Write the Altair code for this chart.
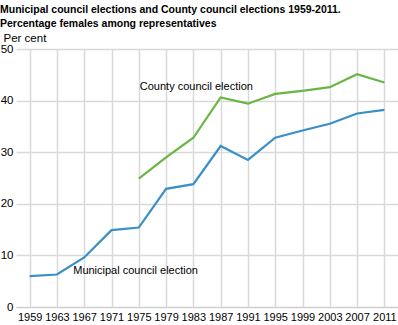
import altair as alt
import pandas as pd

years = [1959, 1963, 1967, 1971, 1975, 1979, 1983, 1987, 1991, 1995, 1999, 2003, 2007, 2011]
municipal = [6.0, 6.3, 9.6, 14.9, 15.4, 22.9, 23.8, 31.2, 28.5, 32.8, 34.2, 35.5, 37.5, 38.2]
county = [None, None, None, None, 24.9, 29.0, 32.8, 40.6, 39.4, 41.3, 41.9, 42.6, 45.1, 43.5]
series_names = ["Municipal council election", "County council election"]
colors = ["#3990c8", "#6ab545"]

rows = []
for y, m, c in zip(years, municipal, county):
    rows.append({"year": str(y), "value": m, "series": series_names[0]})
    if c is not None:
        rows.append({"year": str(y), "value": c, "series": series_names[1]})
df = pd.DataFrame(rows)

labels = pd.DataFrame({
    "text": ["County council election", "Municipal council election"],
    "year": ["1975", "1967"],
    "value": [42.6, 7.0],
})

year_order = [str(y) for y in years]

x = alt.X("year:O", sort=year_order,
          scale=alt.Scale(type="point", padding=0.5),
          axis=alt.Axis(title=None, labelAngle=0, ticks=False, labelPadding=4,
                        labelFontSize=11, labelColor="#000", domainColor="#cccccc",
                        grid=True, gridColor="#d9d9d9", gridWidth=1.5, labelFont="Liberation Sans"))
yenc = alt.Y("value:Q", scale=alt.Scale(domain=[0, 50]),
             axis=alt.Axis(title="Per cent", titleAngle=0, titleAlign="left", titleX=-13, titleY=-6,
                           titleFontWeight="normal", titleFontSize=11.5, titleFont="Liberation Sans",
                           values=[0, 10, 20, 30, 40, 50], ticks=False, domain=False, labelPadding=3,
                           labelFontSize=11.5, labelColor="#000", labelFont="Liberation Sans",
                           gridColor="#d9d9d9", gridWidth=1.5))

lines = alt.Chart(df).mark_line(strokeWidth=2.2).encode(
    x=x, y=yenc,
    color=alt.Color("series:N", scale=alt.Scale(domain=series_names, range=colors), legend=None),
)

t1 = alt.Chart(labels.iloc[[0]]).mark_text(align="left", baseline="middle", fontSize=11,
                                            font="Liberation Sans", color="#000", dx=1).encode(
    x=alt.X("year:O", sort=year_order), y="value:Q", text="text:N")
t2 = alt.Chart(labels.iloc[[1]]).mark_text(align="left", baseline="middle", fontSize=11,
                                            font="Liberation Sans", color="#000", dx=-11).encode(
    x=alt.X("year:O", sort=year_order), y="value:Q", text="text:N")

chart = alt.layer(lines, t1, t2).properties(
    width=382, height=258,
    title=alt.TitleParams(
        text=["Municipal council elections and County council elections 1959-2011.",
              "Percentage females among representatives"],
        anchor="start", frame="group", dx=-16, offset=3, fontSize=10.5, fontWeight="bold",
        font="Liberation Sans", color="#000", lineHeight=14),
    autosize=alt.AutoSizeParams(type="none"),
    padding={"left": 16, "top": 49, "right": 0, "bottom": 18},
).configure_view(stroke=None)

chart.save("out.html", embed_options={"renderer": "svg", "actions": False})
